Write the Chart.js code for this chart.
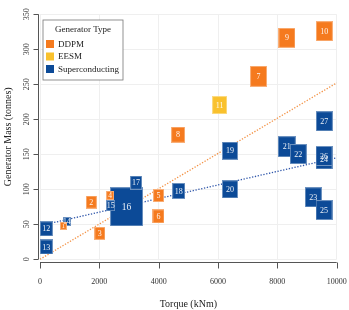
<!DOCTYPE html>
<html>
<head>
<meta charset="utf-8">
<script src="https://cdn.jsdelivr.net/npm/chart.js@4"></script>
<style>
  html, body { margin: 0; padding: 0; background: #fff; }
  #wrap { width: 349px; height: 310px; }
</style>
</head>
<body>
<div id="wrap"><canvas id="myChart" width="349" height="310"></canvas></div>
<script>
// generator designs, numbered as in the figure
const ids = [1, 2, 3, 4, 5, 6, 7, 8, 9, 10, 11, 12, 13, 14, 15, 16, 17, 18, 19, 20, 21, 22, 23, 24, 25, 26, 27];
const genType = [
    'DDPM', 'DDPM', 'DDPM', 'DDPM', 'DDPM', 'DDPM', 'DDPM', 'DDPM', 'DDPM', 'DDPM',
    'EESM',
    'Superconducting', 'Superconducting', 'Superconducting', 'Superconducting',
    'Superconducting', 'Superconducting', 'Superconducting', 'Superconducting',
    'Superconducting', 'Superconducting', 'Superconducting', 'Superconducting',
    'Superconducting', 'Superconducting', 'Superconducting', 'Superconducting'
];
const torque = [788, 1730, 2016, 2365, 3997, 3993, 7365, 4655, 8321, 9584,
    6054,
    213, 213, 902, 2382, 2916, 3238, 4673, 6402, 6402, 8317, 8706, 9213, 9572, 9572, 9572, 9584];
const mass = [47.8, 81.6, 37.1, 91.4, 91.1, 61.4, 261.4, 178, 316.4, 325.9,
    220.4,
    43.6, 17.6, 54, 76.6, 75.1, 109.4, 97.6, 155, 100, 160.9, 150.4, 88.6, 142.9, 70.4, 147.6, 197.3];
// marker width of each square (px)
const markerWidth = [6.7, 11, 10.7, 8, 11.3, 11.7, 17.4, 13.5, 17.3, 17.3,
    15,
    12.7, 12.7, 8, 9, 32.7, 11.7, 13.3, 15.6, 15.6, 17.7, 16.7, 16.7, 16.7, 16.7, 16.7, 17.3];

// linear fits
const fitTorque = [0, 10000];
const fitDDPM = [0, 252];
const fitSC = [48, 145];

const typeNames = ['DDPM', 'EESM', 'Superconducting'];
const xTicks = [0, 2000, 4000, 6000, 8000, 10000];
const yTicks = [0, 50, 100, 150, 200, 250, 300, 350];

const colors = { DDPM: '#F57A1E', EESM: '#F9C12D', Superconducting: '#0C4A97' };
const serif = '"Liberation Serif", "DejaVu Serif", serif';

const rectCache = {};
function rectImage(w, color) {
    const key = w + color;
    if (rectCache[key]) return rectCache[key];
    const c = document.createElement('canvas');
    c.width = Math.round(w);
    c.height = Math.round(w * 1.18);
    const g = c.getContext('2d');
    g.fillStyle = color;
    g.fillRect(0, 0, c.width, c.height);
    g.strokeStyle = 'rgba(255,255,255,0.4)';
    g.lineWidth = 1;
    g.strokeRect(0.5, 0.5, c.width - 1, c.height - 1);
    rectCache[key] = c;
    return c;
}

function pointsOf(type) {
    const idx = ids.map((_, i) => i).filter(i => genType[i] === type);
    // bigger squares first so smaller ones sit on top
    idx.sort((a, b) => markerWidth[b] - markerWidth[a]);
    return idx.map(i => ({ x: torque[i], y: mass[i], id: ids[i], w: markerWidth[i] }));
}

const scatterSets = typeNames.map((t, k) => ({
    type: 'scatter',
    label: t,
    data: pointsOf(t),
    order: k,
    clip: false,
    pointStyle: ctx => rectImage(ctx.raw.w, colors[t]),
    pointRadius: ctx => ctx.raw.w / 2,
    pointHoverRadius: ctx => ctx.raw.w / 2
}));

const lineSets = [
    { data: fitDDPM, color: '#F39245' },
    { data: fitSC, color: '#2F56AA' }
].map(f => ({
    type: 'line',
    data: fitTorque.map((x, i) => ({ x: x, y: f.data[i] })),
    borderColor: f.color,
    borderWidth: 1.3,
    borderDash: [1.3, 1.6],
    pointRadius: 0,
    fill: false,
    order: 10,
    clip: false
}));

const pointLabels = {
    id: 'pointLabels',
    afterDatasetsDraw(chart) {
        const ctx = chart.ctx;
        ctx.save();
        ctx.fillStyle = 'rgba(255,255,255,0.92)';
        ctx.textAlign = 'center';
        ctx.textBaseline = 'middle';
        chart.data.datasets.forEach((ds, i) => {
            if (ds.type !== 'scatter') return;
            chart.getDatasetMeta(i).data.forEach((pt, j) => {
                const r = ds.data[j];
                const fs = r.w > 20 ? 9.5 : Math.min(8, r.w * 0.95);
                ctx.font = fs + 'px ' + serif;
                ctx.fillText(String(r.id), pt.x, pt.y + 0.5);
            });
        });
        ctx.restore();
    }
};

// R style axis lines, set a little off the plot region
function drawOffsetAxes(chart) {
    const ctx = chart.ctx;
    const xs = chart.scales.x, ys = chart.scales.y;
    const yLine = Math.round(chart.chartArea.bottom + 3) + 0.5;
    const xLine = Math.round(chart.chartArea.left - 2) + 0.5;
    ctx.save();
    ctx.strokeStyle = '#555';
    ctx.lineWidth = 1;
    ctx.setLineDash([]);
    ctx.beginPath();
    ctx.moveTo(xs.getPixelForValue(xTicks[0]), yLine);
    ctx.lineTo(xs.getPixelForValue(xTicks[xTicks.length - 1]), yLine);
    xTicks.forEach(v => {
        const px = Math.round(xs.getPixelForValue(v)) + 0.5;
        ctx.moveTo(px, yLine);
        ctx.lineTo(px, yLine + 6);
    });
    ctx.moveTo(xLine, ys.getPixelForValue(yTicks[0]));
    ctx.lineTo(xLine, ys.getPixelForValue(yTicks[yTicks.length - 1]));
    yTicks.forEach(v => {
        const py = Math.round(ys.getPixelForValue(v)) + 0.5;
        ctx.moveTo(xLine, py);
        ctx.lineTo(xLine - 5, py);
    });
    ctx.stroke();
    ctx.restore();
}

function drawLegendBox(chart) {
    const ctx = chart.ctx;
    ctx.save();
    ctx.fillStyle = '#fff';
    ctx.fillRect(43, 20, 80, 60);
    ctx.strokeStyle = '#777';
    ctx.lineWidth = 0.8;
    ctx.strokeRect(43, 20, 80, 60);
    ctx.fillStyle = '#222';
    ctx.font = '9px ' + serif;
    ctx.textAlign = 'center';
    ctx.textBaseline = 'middle';
    ctx.fillText('Generator Type', 83, 29.5);
    ctx.textAlign = 'left';
    typeNames.forEach((t, i) => {
        const y = 40 + 12.5 * i;
        ctx.fillStyle = colors[t];
        ctx.fillRect(46, y, 8, 8);
        ctx.fillStyle = '#222';
        ctx.fillText(t, 58, y + 4.5);
    });
    ctx.restore();
}

const extras = {
    id: 'extras',
    afterDraw(chart) {
        drawOffsetAxes(chart);
        drawLegendBox(chart);
    }
};

new Chart('myChart', {
    data: { datasets: [...scatterSets, ...lineSets] },
    options: {
        responsive: false,
        animation: false,
        events: [],
        layout: { autoPadding: false, padding: { top: 14.3, right: 12.3, left: 0, bottom: 0 } },
        plugins: { legend: { display: false }, tooltip: { enabled: false } },
        scales: {
            x: {
                type: 'linear',
                min: 0,
                max: 10000,
                afterBuildTicks: s => { s.ticks = xTicks.map(v => ({ value: v })); },
                afterFit: s => { s.height = 50.7; s.paddingLeft = 0; s.paddingRight = 0; },
                ticks: { font: { family: serif, size: 8 }, color: '#333', padding: 17.5, callback: v => String(v) },
                grid: { color: '#efefef', drawTicks: false },
                border: { display: false },
                title: { display: true, text: 'Torque (kNm)', font: { family: serif, size: 10 }, color: '#222', padding: { top: 0, bottom: 0 } }
            },
            y: {
                type: 'linear',
                min: 0,
                max: 350,
                afterBuildTicks: s => { s.ticks = yTicks.map(v => ({ value: v })); },
                afterFit: s => { s.width = 40; s.paddingTop = 0; s.paddingBottom = 0; },
                ticks: { font: { family: serif, size: 8 }, color: '#333', padding: 7, minRotation: 90, maxRotation: 90, crossAlign: 'center', callback: v => String(v) },
                grid: { color: '#efefef', drawTicks: false },
                border: { display: false },
                title: { display: true, text: 'Generator Mass (tonnes)', font: { family: serif, size: 10 }, color: '#222', padding: { top: 2.5, bottom: 0 } }
            }
        }
    },
    plugins: [pointLabels, extras]
});
</script>
</body>
</html>
